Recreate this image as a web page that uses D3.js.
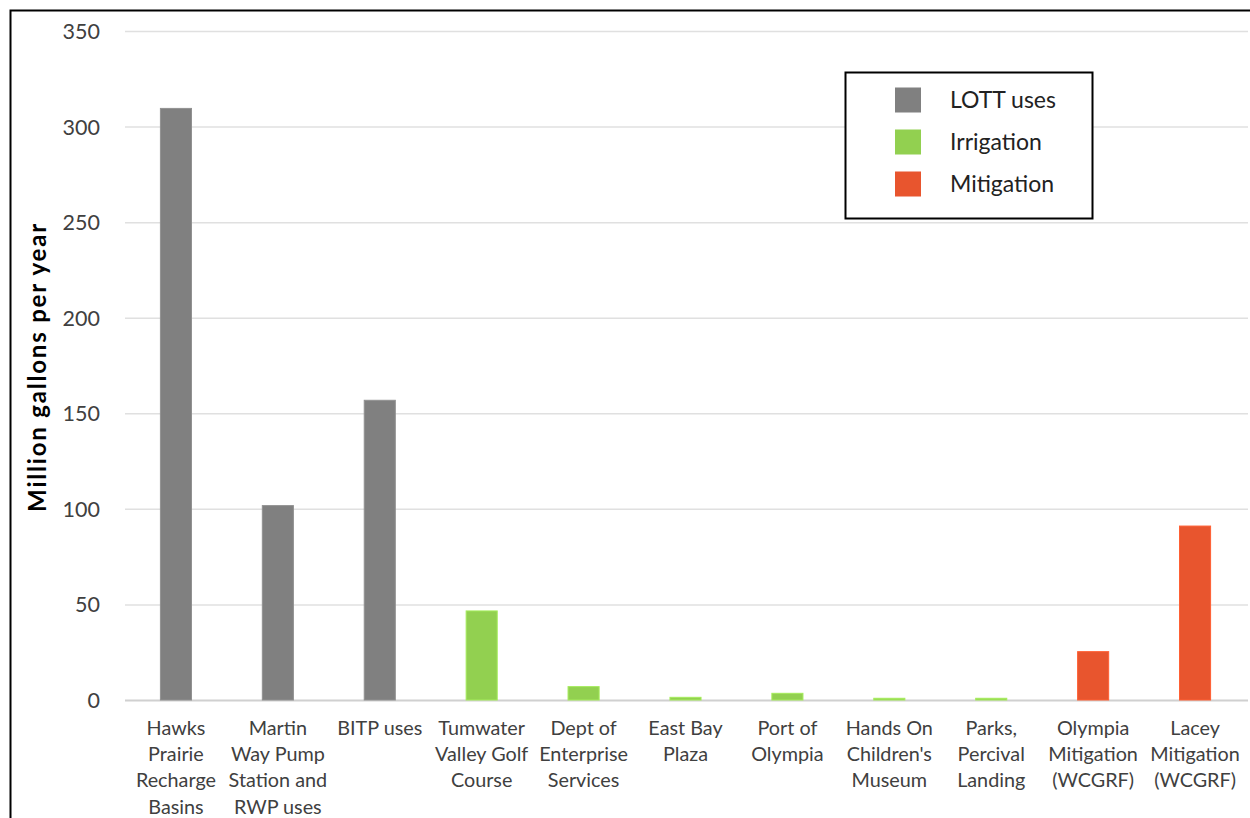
<!DOCTYPE html>
<html><head><meta charset="utf-8">
<script src="https://d3js.org/d3.v7.min.js"></script>
<style>body{margin:0;background:#fff;} text{font-family:Lato,"Open Sans",sans-serif;}</style>
</head><body>
<svg id="c" width="1250" height="818"></svg>
<script>
const categories = [
  ["Hawks","Prairie","Recharge","Basins"],
  ["Martin","Way Pump","Station and","RWP uses"],
  ["BITP uses"],
  ["Tumwater","Valley Golf","Course"],
  ["Dept of","Enterprise","Services"],
  ["East Bay","Plaza"],
  ["Port of","Olympia"],
  ["Hands On","Children's","Museum"],
  ["Parks,","Percival","Landing"],
  ["Olympia","Mitigation","(WCGRF)"],
  ["Lacey","Mitigation","(WCGRF)"]
];
const values = [309.5, 101.7, 156.8, 46.6, 7.0, 1.4, 3.5, 0.9, 0.9, 25.3, 91.0];
const groups = ["LOTT uses","LOTT uses","LOTT uses","Irrigation","Irrigation","Irrigation","Irrigation","Irrigation","Irrigation","Mitigation","Mitigation"];
const seriesNames = ["LOTT uses","Irrigation","Mitigation"];
const seriesColors = ["#808080","#92d050","#e8552e"];
const yTicks = [0,50,100,150,200,250,300,350];
const yTitle = "Million gallons per year";

const svg = d3.select("#c");
// outer border
svg.append("rect").attr("x",10.5).attr("y",10.5).attr("width",1260).attr("height",830)
  .attr("fill","none").attr("stroke","#000").attr("stroke-width",2);

const x0 = 125, x1 = 1246, yTop = 31, yBot = 700;
const x = d3.scaleBand().domain(d3.range(categories.length)).range([x0,x1]).paddingInner(0.695).paddingOuter(0.3475);
const y = d3.scaleLinear().domain([0,350]).range([yBot,yTop]);
const color = d3.scaleOrdinal().domain(seriesNames).range(seriesColors);

// gridlines
svg.append("g").selectAll("line").data(yTicks).join("line")
  .attr("x1",x0).attr("x2",1248).attr("y1",d=>y(d)+0.5).attr("y2",d=>y(d)+0.5)
  .attr("stroke",d=>d===0?"#d0d0d0":"#e0e0e0").attr("stroke-width",d=>d===0?2:1.5);

// y axis labels
const yAxis = d3.axisLeft(y).tickValues(yTicks).tickSize(0).tickPadding(0);
const ga = svg.append("g").attr("transform","translate(100,0)").call(yAxis);
ga.select(".domain").remove();
ga.selectAll("text").attr("font-size",21.5).attr("fill","#404040").attr("dy","0.35em")
  .style("font-family","Lato, 'Open Sans', sans-serif");

// bars
svg.append("g").selectAll("rect").data(values).join("rect")
  .attr("x",(d,i)=>x(i)).attr("width",x.bandwidth())
  .attr("y",d=>y(d)).attr("height",d=>yBot-y(d))
  .attr("fill",(d,i)=>color(groups[i]))
  .attr("stroke",(d,i)=>d3.color(color(groups[i])).brighter(0.35))
  .attr("stroke-width",1);

// category labels
const gl = svg.append("g");
categories.forEach((lines,i)=>{
  const t = gl.append("text").attr("x",x(i)+x.bandwidth()/2).attr("y",735)
    .attr("text-anchor","middle").attr("font-size",19.8).attr("fill","#404040");
  lines.forEach((l,j)=>t.append("tspan").attr("x",x(i)+x.bandwidth()/2).attr("y",735+j*26.2).text(l));
});

// y title
svg.append("text").attr("transform","translate(46,367) rotate(-90)")
  .attr("text-anchor","middle").attr("font-size",24).attr("font-weight","bold").attr("fill","#000")
  .attr("letter-spacing",1.8)
  .text(yTitle);

// legend
const lg = svg.append("g");
lg.append("rect").attr("x",845.5).attr("y",72.5).attr("width",247).attr("height",146)
  .attr("fill","#fff").attr("stroke","#000").attr("stroke-width",2);
seriesNames.forEach((s,i)=>{
  const cy = 100 + i*42;
  lg.append("rect").attr("x",895).attr("y",cy-12.5).attr("width",26).attr("height",25).attr("fill",color(s));
  lg.append("text").attr("x",950).attr("y",cy).attr("dy","0.35em").attr("font-size",23).attr("fill","#222").text(s);
});
</script>
</body></html>
